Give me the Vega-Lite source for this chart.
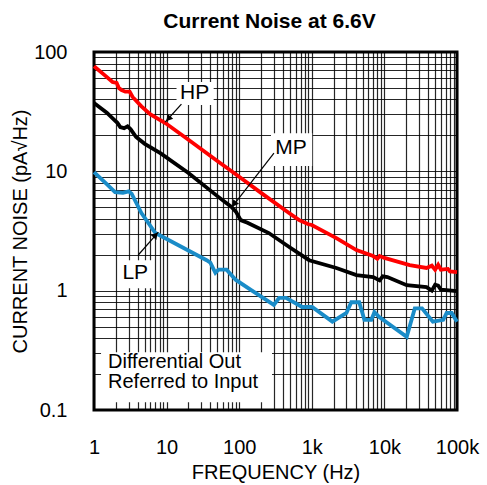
{
  "$schema": "https://vega.github.io/schema/vega-lite/v6.json",
  "width": 363,
  "height": 358,
  "autosize": {"type": "none"},
  "padding": {"left": 94, "top": 52, "right": 30, "bottom": 75},
  "background": "white",
  "config": {
    "font": "Liberation Sans",
    "view": {"stroke": "black", "strokeWidth": 3},
    "axis": {"labelFont": "Liberation Sans", "titleFont": "Liberation Sans", "labelColor": "black", "titleColor": "black", "titleFontWeight": "normal", "domain": false, "ticks": false, "tickSize": 0, "grid": true, "gridColor": "black", "gridWidth": 1.2, "gridOpacity": 0.85, "labelOverlap": false, "labelFlush": false}
  },
  "title": {"text": "Current Noise at 6.6V", "fontSize": 21, "fontWeight": "bold", "font": "Liberation Sans", "anchor": "middle", "frame": "group", "offset": 10, "dx": -6, "color": "black"},
  "datasets": {
    "curves": [
      {"f": 1, "v": 76, "s": "HP"}, {"f": 1.4, "v": 64, "s": "HP"}, {"f": 1.8, "v": 56, "s": "HP"}, {"f": 2.05, "v": 55, "s": "HP"}, {"f": 2.2, "v": 50, "s": "HP"}, {"f": 2.4, "v": 48, "s": "HP"}, {"f": 2.7, "v": 46.5, "s": "HP"}, {"f": 3.1, "v": 46.5, "s": "HP"}, {"f": 3.4, "v": 42, "s": "HP"}, {"f": 4.5, "v": 35, "s": "HP"}, {"f": 6, "v": 30, "s": "HP"}, {"f": 9.6, "v": 25.4, "s": "HP"}, {"f": 20, "v": 18.4, "s": "HP"}, {"f": 50, "v": 12.2, "s": "HP"}, {"f": 100, "v": 9.0, "s": "HP"}, {"f": 200, "v": 6.6, "s": "HP"}, {"f": 486, "v": 4.47, "s": "HP"}, {"f": 670, "v": 3.9, "s": "HP"}, {"f": 900, "v": 3.6, "s": "HP"}, {"f": 1000, "v": 3.55, "s": "HP"}, {"f": 2180, "v": 2.76, "s": "HP"}, {"f": 4120, "v": 2.19, "s": "HP"}, {"f": 7000, "v": 1.95, "s": "HP"}, {"f": 8000, "v": 1.85, "s": "HP"}, {"f": 8600, "v": 1.95, "s": "HP"}, {"f": 10000, "v": 1.88, "s": "HP"}, {"f": 22300, "v": 1.64, "s": "HP"}, {"f": 38000, "v": 1.55, "s": "HP"}, {"f": 45000, "v": 1.62, "s": "HP"}, {"f": 50000, "v": 1.5, "s": "HP"}, {"f": 55000, "v": 1.65, "s": "HP"}, {"f": 60000, "v": 1.5, "s": "HP"}, {"f": 75000, "v": 1.52, "s": "HP"}, {"f": 80000, "v": 1.45, "s": "HP"}, {"f": 100000, "v": 1.43, "s": "HP"},
      {"f": 1, "v": 37.4, "s": "MP"}, {"f": 1.5, "v": 31, "s": "MP"}, {"f": 1.9, "v": 27, "s": "MP"}, {"f": 2.1, "v": 25.5, "s": "MP"}, {"f": 2.3, "v": 23.5, "s": "MP"}, {"f": 2.6, "v": 23, "s": "MP"}, {"f": 2.9, "v": 23.8, "s": "MP"}, {"f": 3.2, "v": 22.5, "s": "MP"}, {"f": 3.8, "v": 19.4, "s": "MP"}, {"f": 5, "v": 17, "s": "MP"}, {"f": 8.2, "v": 14.2, "s": "MP"}, {"f": 20, "v": 9.7, "s": "MP"}, {"f": 50, "v": 6.2, "s": "MP"}, {"f": 79, "v": 5.0, "s": "MP"}, {"f": 90, "v": 4.6, "s": "MP"}, {"f": 105, "v": 3.9, "s": "MP"}, {"f": 130, "v": 3.7, "s": "MP"}, {"f": 256, "v": 3.04, "s": "MP"}, {"f": 500, "v": 2.3, "s": "MP"}, {"f": 920, "v": 1.8, "s": "MP"}, {"f": 2180, "v": 1.55, "s": "MP"}, {"f": 4120, "v": 1.35, "s": "MP"}, {"f": 7000, "v": 1.3, "s": "MP"}, {"f": 8590, "v": 1.22, "s": "MP"}, {"f": 9500, "v": 1.32, "s": "MP"}, {"f": 11000, "v": 1.3, "s": "MP"}, {"f": 20300, "v": 1.11, "s": "MP"}, {"f": 38000, "v": 1.07, "s": "MP"}, {"f": 45000, "v": 1.0, "s": "MP"}, {"f": 50000, "v": 1.12, "s": "MP"}, {"f": 55000, "v": 1.1, "s": "MP"}, {"f": 60000, "v": 1.02, "s": "MP"}, {"f": 100000, "v": 0.99, "s": "MP"},
      {"f": 1, "v": 9.86, "s": "LP"}, {"f": 1.5, "v": 7.8, "s": "LP"}, {"f": 1.95, "v": 6.7, "s": "LP"}, {"f": 2.5, "v": 6.6, "s": "LP"}, {"f": 3.0, "v": 6.8, "s": "LP"}, {"f": 3.3, "v": 6.5, "s": "LP"}, {"f": 4.5, "v": 4.47, "s": "LP"}, {"f": 7, "v": 3.04, "s": "LP"}, {"f": 15, "v": 2.38, "s": "LP"}, {"f": 35.6, "v": 1.8, "s": "LP"}, {"f": 40, "v": 1.72, "s": "LP"}, {"f": 47, "v": 1.41, "s": "LP"}, {"f": 52, "v": 1.5, "s": "LP"}, {"f": 67, "v": 1.5, "s": "LP"}, {"f": 90, "v": 1.23, "s": "LP"}, {"f": 150, "v": 1.0, "s": "LP"}, {"f": 300, "v": 0.76, "s": "LP"}, {"f": 355, "v": 0.87, "s": "LP"}, {"f": 442, "v": 0.87, "s": "LP"}, {"f": 736, "v": 0.73, "s": "LP"}, {"f": 1010, "v": 0.73, "s": "LP"}, {"f": 1920, "v": 0.55, "s": "LP"}, {"f": 3000, "v": 0.65, "s": "LP"}, {"f": 3500, "v": 0.8, "s": "LP"}, {"f": 4500, "v": 0.8, "s": "LP"}, {"f": 5300, "v": 0.57, "s": "LP"}, {"f": 6600, "v": 0.57, "s": "LP"}, {"f": 7300, "v": 0.66, "s": "LP"}, {"f": 8500, "v": 0.6, "s": "LP"}, {"f": 20300, "v": 0.41, "s": "LP"}, {"f": 26200, "v": 0.71, "s": "LP"}, {"f": 33000, "v": 0.71, "s": "LP"}, {"f": 46500, "v": 0.55, "s": "LP"}, {"f": 64600, "v": 0.57, "s": "LP"}, {"f": 72000, "v": 0.65, "s": "LP"}, {"f": 84500, "v": 0.65, "s": "LP"}, {"f": 100000, "v": 0.55, "s": "LP"}
    ],
    "boxes": [
      {"f1": 13.7, "f2": 44.5, "v1": 36, "v2": 56},
      {"f1": 274, "f2": 1013, "v1": 11.1, "v2": 20.9},
      {"f1": 2.29, "f2": 6.56, "v1": 1.05, "v2": 1.8},
      {"f1": 1.25, "f2": 283, "v1": 0.116, "v2": 0.305}
    ],
    "arrows": [
      {"name": "HP", "f1": 16, "v1": 36.6, "f2": 9.6, "v2": 25.9, "hf": 10.8, "hv": 28},
      {"name": "MP", "f1": 301, "v1": 14.2, "f2": 79, "v2": 5.0, "hf": 87, "hv": 5.4},
      {"name": "LP", "f1": 4.07, "v1": 1.99, "f2": 7.7, "v2": 3.1, "hf": 6.9, "hv": 2.88}
    ],
    "labels": [
      {"t": "HP", "f": 24.3, "v": 45.3},
      {"t": "MP", "f": 518, "v": 15.7},
      {"t": "LP", "f": 3.7, "v": 1.41}
    ],
    "notes": [
      {"t": "Differential Out", "f": 1.56, "v": 0.252},
      {"t": "Referred to Input", "f": 1.56, "v": 0.171}
    ]
  },
  "layer": [
    {
      "data": {"name": "boxes"},
      "mark": {"type": "rect", "fill": "white", "stroke": null},
      "encoding": {
        "x": {"field": "f1", "type": "quantitative", "scale": {"type": "log", "domain": [1, 100000], "nice": false},
          "axis": {"title": "FREQUENCY (Hz)", "titleFontSize": 20, "labelFontSize": 20, "tickCount": 20, "labelPadding": 27, "titlePadding": 5,
            "labelExpr": "abs(log(datum.value)/LN10 - round(log(datum.value)/LN10)) > 0.001 ? '' : (datum.value >= 1000 ? format(datum.value/1000, 'd') + 'k' : format(datum.value, 'd'))"}},
        "x2": {"field": "f2"},
        "y": {"field": "v1", "type": "quantitative", "scale": {"type": "log", "domain": [0.1, 100], "nice": false},
          "axis": {"title": "CURRENT NOISE (pA√Hz)", "titleFontSize": 20, "labelFontSize": 20, "tickCount": 20, "labelPadding": 27, "titlePadding": 3,
            "labelExpr": "abs(log(datum.value)/LN10 - round(log(datum.value)/LN10)) > 0.001 ? '' : (datum.value < 1 ? '0.1' : format(datum.value, 'd'))"}},
        "y2": {"field": "v2"}
      }
    },
    {
      "data": {"name": "curves"},
      "mark": {"type": "line", "strokeWidth": 3.8, "interpolate": "linear"},
      "encoding": {
        "x": {"field": "f", "type": "quantitative"},
        "y": {"field": "v", "type": "quantitative"},
        "color": {"field": "s", "type": "nominal", "scale": {"domain": ["HP", "MP", "LP"], "range": ["#ff0000", "#000000", "#1a8cc8"]}, "legend": null},
        "detail": {"field": "s"}
      }
    },
    {
      "data": {"name": "arrows"},
      "mark": {"type": "rule", "color": "black", "strokeWidth": 1.2},
      "encoding": {
        "x": {"field": "f1", "type": "quantitative"},
        "y": {"field": "v1", "type": "quantitative"},
        "x2": {"field": "f2"},
        "y2": {"field": "v2"}
      }
    },
    {
      "data": {"name": "arrows"},
      "transform": [{"filter": "datum.name == 'HP'"}],
      "mark": {"type": "point", "shape": "triangle", "filled": true, "color": "black", "size": 55, "angle": 222, "opacity": 1},
      "encoding": {"x": {"field": "hf", "type": "quantitative"}, "y": {"field": "hv", "type": "quantitative"}}
    },
    {
      "data": {"name": "arrows"},
      "transform": [{"filter": "datum.name == 'MP'"}],
      "mark": {"type": "point", "shape": "triangle", "filled": true, "color": "black", "size": 55, "angle": 218, "opacity": 1},
      "encoding": {"x": {"field": "hf", "type": "quantitative"}, "y": {"field": "hv", "type": "quantitative"}}
    },
    {
      "data": {"name": "arrows"},
      "transform": [{"filter": "datum.name == 'LP'"}],
      "mark": {"type": "point", "shape": "triangle", "filled": true, "color": "black", "size": 55, "angle": 41, "opacity": 1},
      "encoding": {"x": {"field": "hf", "type": "quantitative"}, "y": {"field": "hv", "type": "quantitative"}}
    },
    {
      "data": {"name": "labels"},
      "mark": {"type": "text", "fontSize": 21, "color": "black", "align": "center", "baseline": "middle"},
      "encoding": {"x": {"field": "f", "type": "quantitative"}, "y": {"field": "v", "type": "quantitative"}, "text": {"field": "t"}}
    },
    {
      "data": {"name": "notes"},
      "mark": {"type": "text", "fontSize": 20, "color": "black", "align": "left", "baseline": "middle"},
      "encoding": {"x": {"field": "f", "type": "quantitative"}, "y": {"field": "v", "type": "quantitative"}, "text": {"field": "t"}}
    }
  ]
}
